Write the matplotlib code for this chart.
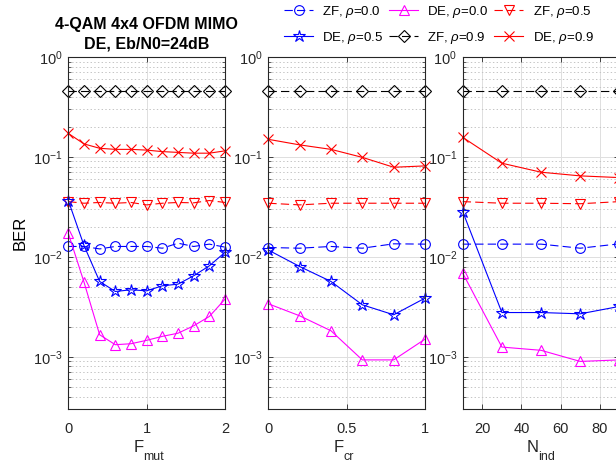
import matplotlib
matplotlib.use('Agg')
import matplotlib.pyplot as plt

plt.rcParams['font.family'] = ['Liberation Sans', 'DejaVu Sans']
plt.rcParams['mathtext.fontset'] = 'custom'
plt.rcParams['mathtext.rm'] = 'Liberation Sans'
plt.rcParams['mathtext.it'] = 'Liberation Sans:italic'
plt.rcParams['mathtext.bf'] = 'Liberation Sans:bold'
plt.rcParams['lines.scale_dashes'] = False

# x values of each panel
f_mut = [0, 0.2, 0.4, 0.6, 0.8, 1.0, 1.2, 1.4, 1.6, 1.8, 2.0]
f_cr = [0, 0.2, 0.4, 0.6, 0.8, 1.0]
n_ind = [10, 30, 50, 70, 90]

# panel 1: BER vs F_mut
mut_zf0 = [0.0127, 0.0127, 0.0120, 0.0127, 0.0127, 0.0127, 0.0122, 0.0137, 0.0127, 0.0134, 0.0125]
mut_de0 = [0.0172, 0.0056, 0.00166, 0.00132, 0.00135, 0.00146, 0.0016, 0.00172, 0.00204, 0.00253, 0.00377]
mut_zf5 = [0.0357, 0.0344, 0.0350, 0.0344, 0.0350, 0.0331, 0.0344, 0.0350, 0.0347, 0.0366, 0.0350]
mut_de5 = [0.0366, 0.0130, 0.00567, 0.0045, 0.00468, 0.00457, 0.00513, 0.00533, 0.00646, 0.00813, 0.0111]
mut_zf9 = [0.46, 0.46, 0.46, 0.46, 0.46, 0.46, 0.46, 0.46, 0.46, 0.46, 0.46]
mut_de9 = [0.172, 0.135, 0.122, 0.119, 0.119, 0.117, 0.113, 0.111, 0.109, 0.109, 0.115]

# panel 2: BER vs F_cr
cr_zf0 = [0.0124, 0.0122, 0.0127, 0.0122, 0.0135, 0.0134]
cr_de0 = [0.00339, 0.00257, 0.00182, 0.00093, 0.00093, 0.0015]
cr_zf5 = [0.0344, 0.0331, 0.0344, 0.0344, 0.0344, 0.0344]
cr_de5 = [0.0117, 0.0080, 0.00567, 0.00331, 0.00263, 0.00386]
cr_zf9 = [0.46, 0.46, 0.46, 0.46, 0.46, 0.46]
cr_de9 = [0.150, 0.132, 0.119, 0.099, 0.0788, 0.0813]

# panel 3: BER vs N_ind
ind_zf0 = [0.0134, 0.0134, 0.0134, 0.0122, 0.0135]
ind_de0 = [0.00687, 0.00125, 0.00116, 0.000898, 0.00093]
ind_zf5 = [0.0357, 0.0344, 0.0344, 0.0340, 0.0357]
ind_de5 = [0.0284, 0.00277, 0.00277, 0.00269, 0.00319]
ind_zf9 = [0.46, 0.46, 0.46, 0.46, 0.46]
ind_de9 = [0.157, 0.0865, 0.0703, 0.0646, 0.0621]

labels = ['ZF, $\\rho$=0.0', 'DE, $\\rho$=0.0', 'ZF, $\\rho$=0.5',
          'DE, $\\rho$=0.5', 'ZF, $\\rho$=0.9', 'DE, $\\rho$=0.9']
colors = ['blue', 'magenta', 'red', 'blue', 'black', 'red']
markers = ['o', '^', 'v', '*', 'D', 'x']
styles = ['--', '-', '--', '-', '--', '-']

panels = [
    (f_mut, [mut_zf0, mut_de0, mut_zf5, mut_de5, mut_zf9, mut_de9], ('F', 'mut'), (0, 2), [0, 1, 2], ['0', '1', '2']),
    (f_cr, [cr_zf0, cr_de0, cr_zf5, cr_de5, cr_zf9, cr_de9], ('F', 'cr'), (0, 1), [0, 0.5, 1], ['0', '0.5', '1']),
    (n_ind, [ind_zf0, ind_de0, ind_zf5, ind_de5, ind_zf9, ind_de9], ('N', 'ind'), (10, 90), [20, 40, 60, 80], ['20', '40', '60', '80']),
]

W, H = 616, 465
fig = plt.figure(figsize=(W / 100, H / 100), dpi=100)
lefts = [68.3, 268.3, 462.7]
ax_w = 156.7
ax_top, ax_bot = 57, 409

handles = None
for i, (x, series, xlabel, xlim, xt, xtl) in enumerate(panels):
    ax = fig.add_axes([lefts[i] / W, (H - ax_bot) / H, ax_w / W, (ax_bot - ax_top) / H])
    hs = []
    for k, y in enumerate(series):
        ms = 9 if markers[k] == '*' else (6 if markers[k] == 'D' else 7)
        h, = ax.plot(x, y, linestyle=styles[k], color=colors[k], marker=markers[k],
                     markersize=ms, markerfacecolor='none', markeredgewidth=0.8,
                     linewidth=0.8, label=labels[k], clip_on=False,
                     dashes=(6, 3) if styles[k] == '--' else (None, None))
        hs.append(h)
    if handles is None:
        handles = hs
    ax.set_yscale('log')
    ax.set_ylim(3e-4, 1)
    ax.set_xlim(*xlim)
    ax.set_xticks(xt)
    ax.set_xticklabels(xtl)

    # x label with a lowered subscript, centred under the axes
    cx = (lefts[i] + ax_w / 2) / W
    main, sub = xlabel
    t1 = fig.text(cx - 8 / W, 1 - 447 / H, main, fontsize=12, ha='center', va='center', color='#262626')
    fig.text(cx - 3 / W, 1 - 457 / H, sub, fontsize=9, ha='left', va='center', color='#262626')

    if i == 0:
        ax.set_ylabel('BER', fontsize=12, labelpad=4)
        ax.set_title('4-QAM 4x4 OFDM MIMO\nDE, Eb/N0=24dB', fontsize=11.5,
                     fontweight='bold', pad=6, linespacing=1.35)
    ax.grid(True, which='major', color='#dedede', linewidth=0.7)
    ax.grid(True, which='minor', axis='y', color='#c4c4c4', linestyle=':', linewidth=0.7)
    ax.set_axisbelow(True)
    ax.tick_params(which='both', direction='in', top=True, right=True,
                   colors='#262626', labelsize=10.5)
    ax.tick_params(which='major', length=3.5, width=0.6)
    ax.tick_params(which='minor', length=2, width=0.5)
    ax.tick_params(axis='x', pad=9)
    ax.tick_params(axis='y', pad=4)
    for sp in ax.spines.values():
        sp.set_color('#262626')
        sp.set_linewidth(0.8)

order = [0, 3, 1, 4, 2, 5]
fig.legend([handles[j] for j in order], [labels[j] for j in order],
           loc='center left', bbox_to_anchor=(284 / W, 1 - 25 / H), ncol=3,
           frameon=False, fontsize=9.5, borderpad=0, handlelength=2.2,
           handletextpad=0.7, columnspacing=0.45, labelspacing=0.75, borderaxespad=0)

fig.savefig('out.png', dpi=100)
